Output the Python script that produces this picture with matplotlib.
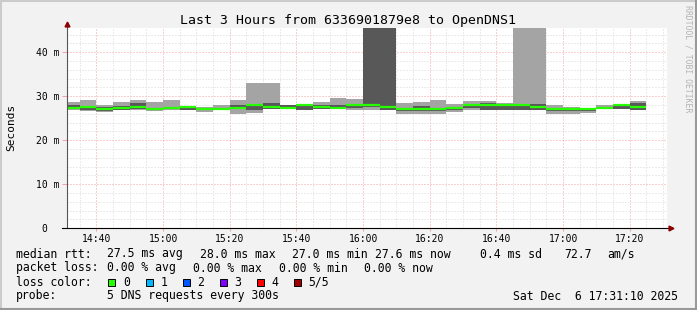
import matplotlib
matplotlib.use('Agg')
import matplotlib.pyplot as plt
from matplotlib.patches import Rectangle
from matplotlib.lines import Line2D
from matplotlib.ticker import MultipleLocator

W, H = 697, 310
MONO = 'DejaVu Sans Mono'

# 5 minute bins, start time of each
bin_start = ['14:30', '14:35', '14:40', '14:45', '14:50', '14:55', '15:00',
             '15:05', '15:10', '15:15', '15:20', '15:25', '15:30', '15:35',
             '15:40', '15:45', '15:50', '15:55', '16:00', '16:05', '16:10',
             '16:15', '16:20', '16:25', '16:30', '16:35', '16:40', '16:45',
             '16:50', '16:55', '17:00', '17:05', '17:10', '17:15', '17:20']

# sorted rtt of the 5 pings per bin (ms)
ping1 = [26.9, 26.6, 26.4, 26.9, 26.9, 26.7, 26.9, 26.8, 26.4, 26.8, 25.9, 26.2,
         27.0, 27.0, 26.9, 27.0, 27.0, 26.8, 26.8, 26.8, 25.9, 25.9, 25.9, 26.4,
         26.8, 26.9, 26.9, 26.9, 26.8, 26.0, 26.0, 26.2, 27.1, 27.0, 26.9]
ping2 = [27.0, 26.8, 26.7, 26.9, 27.0, 26.8, 27.0, 26.8, 26.8, 26.9, 27.0, 26.9,
         27.0, 27.0, 26.9, 27.0, 27.0, 27.3, 27.5, 26.8, 26.7, 26.7, 26.7, 26.9,
         27.4, 26.9, 26.9, 26.9, 26.8, 26.6, 26.7, 26.6, 27.1, 27.0, 26.9]
median = [27.3, 27.5, 27.0, 27.4, 27.6, 27.0, 27.4, 27.5, 27.0, 27.1, 27.3, 28.0,
          27.6, 27.3, 28.0, 27.5, 27.4, 28.0, 28.0, 27.5, 27.0, 27.0, 27.0, 27.4,
          28.0, 28.0, 28.0, 28.0, 27.5, 27.0, 27.0, 27.0, 27.4, 28.0, 27.5]
ping4 = [28.1, 27.9, 27.5, 27.8, 28.4, 27.3, 27.6, 27.8, 27.4, 27.4, 28.0, 28.2,
         28.5, 28.0, 28.2, 28.0, 28.1, 28.3, 55.0, 55.0, 27.4, 27.8, 27.2, 27.5,
         28.3, 28.4, 28.1, 28.3, 28.2, 27.2, 27.3, 27.1, 27.6, 28.3, 28.5]
ping5 = [28.7, 29.2, 28.0, 28.8, 29.2, 28.8, 29.2, 27.9, 27.5, 28.0, 29.2, 33.0,
         33.0, 28.0, 28.2, 28.8, 29.7, 29.4, 60.0, 60.0, 28.5, 28.8, 29.2, 28.2,
         28.9, 28.9, 28.5, 50.0, 50.0, 28.0, 27.6, 27.3, 28.0, 28.3, 28.9]

tick_labels = ['14:40', '15:00', '15:20', '15:40', '16:00', '16:20', '16:40', '17:00', '17:20']
ytick_vals = [0, 10, 20, 30, 40]
ytick_labels = ['0  ', '10 m', '20 m', '30 m', '40 m']

loss_labels = ['0', '1', '2', '3', '4', '5/5']
loss_colors = ['#26ff00', '#00b8ff', '#0059ff', '#7e00ff', '#ff0000', '#a00000']


def tmin(s):
    h, m = s.split(':')
    return int(h) * 60 + int(m) - 14 * 60


x = [tmin(s) for s in bin_start]
lo_h = [b - a for a, b in zip(ping1, ping5)]
in_h = [b - a for a, b in zip(ping2, ping4)]

fig = plt.figure(figsize=(W / 100, H / 100), dpi=100)
fig.patch.set_facecolor('#f2f2f2')

ax = fig.add_axes([67 / W, (H - 228.3) / H, 600 / W, 200 / H])
ax.set_facecolor('white')
ax.bar(x, lo_h, width=5, bottom=ping1, align='edge', color='#a4a4a4', lw=0, zorder=2)
ax.bar(x, in_h, width=5, bottom=ping2, align='edge', color='#585858', lw=0, zorder=3)
ax.hlines(median, x, [v + 5 for v in x], color='#26ff00', lw=1.6, zorder=4)

ax.set_xlim(31 + 10 / 60, 211 + 10 / 60)
ax.set_ylim(0, 45.45)
ax.set_xticks([tmin(s) for s in tick_labels])
ax.set_xticklabels(tick_labels)
ax.xaxis.set_minor_locator(MultipleLocator(5))
ax.set_yticks(ytick_vals)
ax.set_yticklabels(ytick_labels)
ax.yaxis.set_minor_locator(MultipleLocator(2))
for lab in ax.get_xticklabels() + ax.get_yticklabels():
    lab.set_fontfamily(MONO)
    lab.set_fontsize(7)
ax.tick_params(which='major', axis='x', length=2.5, width=0.7, color='#f4a0a0', pad=1.5)
ax.tick_params(which='major', axis='y', length=3.5, width=0.7, color='#f4a0a0', pad=2)
ax.tick_params(which='minor', length=0)

ax.set_axisbelow(True)
ax.grid(True, which='minor', color='#d8d8d8', lw=0.72, ls=(0, (1, 2)))
ax.grid(True, which='major', color='#f4a0a0', lw=0.72, ls=(0, (1, 2)))
for sp in ax.spines.values():
    sp.set_visible(False)

# axes with arrows
ax.plot([0, 0], [0, 1.02], transform=ax.transAxes, color='#555555', lw=0.8, clip_on=False, zorder=5)
ax.plot([-0.008, 1.003], [0, 0], transform=ax.transAxes, color='black', lw=0.8, clip_on=False, zorder=5)
ax.plot([0], [1.024], transform=ax.transAxes, marker='^', ms=3.5, color='#8b0000', clip_on=False, zorder=6)
ax.plot([1.006], [0], transform=ax.transAxes, marker='>', ms=3.5, color='#8b0000', clip_on=False, zorder=6)


def ftext(px, py, s, size=8.3, **kw):
    fig.text(px / W, 1 - py / H, s, fontfamily=MONO, fontsize=size, va='baseline', **kw)


ftext(347.5, 24, 'Last 3 Hours from 6336901879e8 to OpenDNS1', size=9.5, ha='center')
fig.text(11 / W, 1 - 127 / H, 'Seconds', rotation=90, ha='center', va='center',
         fontfamily=MONO, fontsize=8)
fig.text(688 / W, 1 - 5 / H, 'RRDTOOL / TOBI OETIKER', rotation=270, ha='center', va='top',
         fontfamily=MONO, fontsize=5.9, color='#b4b4b4')

# legend rows
ftext(16, 257.5, 'median rtt:')
ftext(107, 257.5, '27.5 ms avg')
ftext(199.5, 257.5, '28.0 ms max')
ftext(292, 257.5, '27.0 ms min')
ftext(374.5, 257.5, '27.6 ms now')
ftext(479.5, 257.5, '0.4 ms sd')
ftext(564.5, 257.5, '72.7')
ftext(607, 257.5, 'am/s')

ftext(16, 271.5, 'packet loss:')
ftext(107, 271.5, '0.00 % avg')
ftext(193, 271.5, '0.00 % max')
ftext(279, 271.5, '0.00 % min')
ftext(364.5, 271.5, '0.00 % now')

ftext(16, 285.5, 'loss color:')
box_x = [108, 145.5, 182.5, 219.5, 256.5, 293.5]
lab_x = [123, 160.5, 197.5, 234, 271, 308]
for bx, lx, lab, col in zip(box_x, lab_x, loss_labels, loss_colors):
    fig.add_artist(Rectangle((bx / W, 1 - 285.7 / H), 7 / W, 6.7 / H, transform=fig.transFigure,
                             facecolor=col, edgecolor='black', lw=0.7))
    ftext(lx, 285.5, lab)

ftext(16, 299.5, 'probe:')
ftext(107, 299.5, '5 DNS requests every 300s')
ftext(513, 299.5, 'Sat Dec  6 17:31:10 2025')

# 3d border
fig.add_artist(Line2D([0, 1], [1 - 1 / H, 1 - 1 / H], transform=fig.transFigure, color='#cbcbcb', lw=1.5))
fig.add_artist(Line2D([1 / W, 1 / W], [0, 1], transform=fig.transFigure, color='#cbcbcb', lw=1.5))
fig.add_artist(Line2D([0, 1], [1 / H, 1 / H], transform=fig.transFigure, color='#999999', lw=1.5))
fig.add_artist(Line2D([1 - 1 / W, 1 - 1 / W], [0, 1], transform=fig.transFigure, color='#999999', lw=1.5))

fig.savefig('out.png', dpi=100, facecolor=fig.get_facecolor())
